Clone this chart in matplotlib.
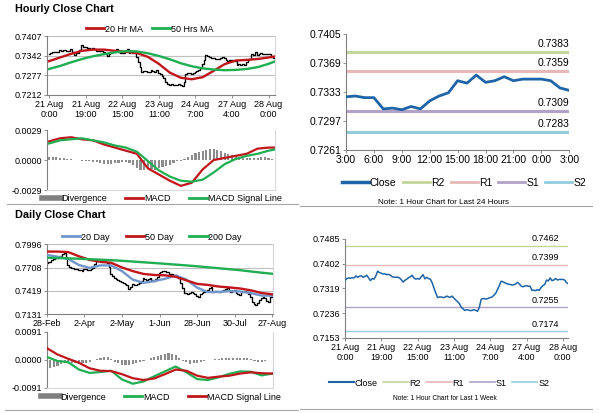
"""Hourly and daily close charts with MAs, MACD and pivot levels."""

import matplotlib
matplotlib.use("Agg")
import matplotlib.pyplot as plt
from matplotlib.lines import Line2D
import numpy as np

plt.rcParams["font.family"] = ["Liberation Sans", "DejaVu Sans"]

# ---------------- hourly data (last week, one value per hour) ----------------
hourly_close = [
    0.7346, 0.7352, 0.7354, 0.7353, 0.7355, 0.7354, 0.7361, 0.7356, 0.7360, 0.7361,
    0.7356, 0.7359, 0.7363, 0.7354, 0.7345, 0.7352, 0.7350, 0.7361, 0.7377, 0.7372,
    0.7370, 0.7367, 0.7368, 0.7365, 0.7366, 0.7363, 0.7358, 0.7357, 0.7356, 0.7357,
    0.7354, 0.7348, 0.7340, 0.7346, 0.7350, 0.7355, 0.7358, 0.7363, 0.7354, 0.7350,
    0.7352, 0.7350, 0.7358, 0.7365, 0.7351, 0.7356, 0.7352, 0.7350, 0.7338, 0.7320,
    0.7303, 0.7288, 0.7290, 0.7290, 0.7288, 0.7289, 0.7293, 0.7290, 0.7289, 0.7293,
    0.7286, 0.7280, 0.7274, 0.7268, 0.7256, 0.7250, 0.7245, 0.7247, 0.7246, 0.7244,
    0.7245, 0.7247, 0.7245, 0.7242, 0.7255, 0.7282, 0.7285, 0.7284, 0.7283, 0.7286,
    0.7288, 0.7290, 0.7296, 0.7302, 0.7315, 0.7328, 0.7343, 0.7341, 0.7338, 0.7335,
    0.7333, 0.7332, 0.7330, 0.7331, 0.7334, 0.7339, 0.7334, 0.7327, 0.7324,
    0.7327, 0.7328, 0.7326, 0.7326, 0.7312, 0.7313, 0.7311, 0.7315, 0.7312, 0.7322,
    0.7328, 0.7332, 0.7347, 0.7344, 0.7354, 0.7345, 0.7347, 0.7352, 0.7347, 0.7349,
    0.7349, 0.7349, 0.7347, 0.7338, 0.7335,
]
hourly_ticks = ["21 Aug\n0:00", "21 Aug\n19:00", "22 Aug\n15:00", "23 Aug\n11:00",
                "24 Aug\n7:00", "27 Aug\n4:00", "28 Aug\n0:00"]

# moving averages and MACD sampled every 6 hours (last point = latest hour)
hourly_ma_hours = [0, 6, 12, 18, 24, 30, 36, 42, 48, 54, 60, 66, 72, 78, 84, 90,
                   96, 102, 108, 114, 120, 123]
ma20_hr = [0.7324, 0.7336, 0.7348, 0.7358, 0.7362, 0.7362, 0.7358, 0.7355, 0.7351,
           0.7338, 0.7315, 0.7286, 0.7269, 0.7264, 0.7271, 0.7292, 0.7314, 0.7326,
           0.7328, 0.7331, 0.7336, 0.7339]
ma50_hr = [0.7298, 0.7308, 0.7320, 0.7331, 0.7340, 0.7347, 0.7353, 0.7357, 0.7356,
           0.7350, 0.7341, 0.7330, 0.7317, 0.7307, 0.7300, 0.7296, 0.7294, 0.7295,
           0.7298, 0.7304, 0.7315, 0.7322]
macd_hr = [0.0018, 0.0021, 0.0022, 0.0020, 0.0019, 0.0015, 0.0012, 0.0009, 0.0006,
           -0.0008, -0.0014, -0.0020, -0.0025, -0.0022, -0.0009, 0.0000, 0.0002,
           0.0004, 0.0006, 0.0011, 0.0012, 0.0012]
signal_hr = [0.0016, 0.0019, 0.0020, 0.0021, 0.0019, 0.0017, 0.0014, 0.0012, 0.0008,
             -0.0001, -0.0010, -0.0016, -0.0020, -0.0021, -0.0019, -0.0012, -0.0004,
             0.0001, 0.0004, 0.0006, 0.0009, 0.0010]
# divergence every 2 hours
divergence_hr = [
    0.0003, 0.0003, 0.0003, 0.0002, 0.0002, 0.0001,
    0.0001, 0.0000, 0.0000, -0.0001, -0.0001,
    -0.0001, -0.0002, -0.0002, -0.0003, -0.0004, -0.0004, -0.0004, -0.0003, -0.0003, -0.0002,
    -0.0002, -0.0003, -0.0005, -0.0008, -0.0010,
    -0.0010, -0.0009, -0.0009, -0.0010, -0.0008, -0.0007, -0.0006, -0.0005, -0.0003, -0.0001,
    -0.0001, 0.0001, 0.0003, 0.0005, 0.0007, 0.0008, 0.0009, 0.0010, 0.0011, 0.0011,
    0.0010, 0.0009, 0.0007, 0.0006, 0.0005, 0.0004, 0.0003, 0.0003, 0.0002, 0.0002,
    0.0002, 0.0002, 0.0003, 0.0003, 0.0002, 0.0001,
]

# ---------------- last 24 hours ----------------
day_hours = ["3:00", "6:00", "9:00", "12:00", "15:00", "18:00", "21:00", "0:00", "3:00"]
pivots_24h = {"R2": 0.7383, "R1": 0.7359, "S1": 0.7309, "S2": 0.7283}
pivots_week = {"R2": 0.7462, "R1": 0.7399, "S1": 0.7255, "S2": 0.7174}

# ---------------- daily data ----------------
daily_close = [
    0.7762, 0.7775, 0.7782, 0.7800, 0.7815, 0.7825, 0.7832, 0.7840, 0.7848, 0.7870,
    0.7886, 0.7840, 0.7741, 0.7710, 0.7702, 0.7700, 0.7695, 0.7691, 0.7680, 0.7675,
    0.7671, 0.7685, 0.7691, 0.7683, 0.7679, 0.7695, 0.7708, 0.7755, 0.7790, 0.7785,
    0.7774, 0.7778, 0.7782, 0.7775, 0.7762, 0.7710, 0.7630, 0.7600, 0.7576, 0.7565,
    0.7555, 0.7540, 0.7535, 0.7520, 0.7505, 0.7490, 0.7444, 0.7473, 0.7501, 0.7498,
    0.7493, 0.7505, 0.7514, 0.7543, 0.7576, 0.7565, 0.7555, 0.7565, 0.7576, 0.7560,
    0.7543, 0.7570, 0.7596, 0.7640, 0.7658, 0.7665, 0.7667, 0.7655, 0.7650, 0.7630,
    0.7625, 0.7617, 0.7612, 0.7609, 0.7576, 0.7514, 0.7452, 0.7400, 0.7390, 0.7378,
    0.7390, 0.7402, 0.7390, 0.7378, 0.7360, 0.7349, 0.7378, 0.7395, 0.7411, 0.7420,
    0.7431, 0.7460, 0.7473, 0.7411, 0.7415, 0.7419, 0.7410, 0.7402, 0.7420, 0.7431,
    0.7445, 0.7452, 0.7420, 0.7411, 0.7425, 0.7431, 0.7390, 0.7380, 0.7369, 0.7411,
    0.7415, 0.7419, 0.7411, 0.7380, 0.7349, 0.7287, 0.7260, 0.7245, 0.7266, 0.7307,
    0.7330, 0.7349, 0.7328, 0.7300, 0.7287, 0.7340, 0.7349,
]
daily_ticks = ["28-Feb", "2-Apr", "2-May", "1-Jun", "28-Jun", "30-Jul", "27-Aug"]

daily_ma_days = [0, 6, 12, 18, 24, 30, 36, 42, 48, 54, 60, 66, 72, 78, 84, 90,
                 96, 102, 108, 114, 120, 126]
ma20_day = [0.7865, 0.7843, 0.7815, 0.7740, 0.7705, 0.7735, 0.7735, 0.7665, 0.7560,
            0.7520, 0.7540, 0.7570, 0.7609, 0.7560, 0.7460, 0.7405, 0.7407, 0.7417,
            0.7413, 0.7392, 0.7362, 0.7361]
ma50_day = [0.7906, 0.7906, 0.7900, 0.7848, 0.7803, 0.7781, 0.7768, 0.7710, 0.7665,
            0.7630, 0.7617, 0.7613, 0.7595, 0.7550, 0.7507, 0.7494, 0.7474, 0.7463,
            0.7450, 0.7427, 0.7394, 0.7378]
ma200_day = [0.7830, 0.7826, 0.7822, 0.7818, 0.7812, 0.7806, 0.7800, 0.7792, 0.7783,
             0.7774, 0.7765, 0.7755, 0.7745, 0.7735, 0.7724, 0.7712, 0.7700, 0.7688,
             0.7676, 0.7660, 0.7645, 0.7632]
macd_day = [0.0009, -0.0004, -0.0008, -0.0032, -0.0043, -0.0040, -0.0036, -0.0064,
            -0.0078, -0.0071, -0.0054, -0.0038, -0.0022, -0.0041, -0.0063, -0.0066,
            -0.0057, -0.0046, -0.0038, -0.0039, -0.0051, -0.0045]
signal_day = [0.0038, 0.0017, 0.0003, -0.0010, -0.0028, -0.0036, -0.0037, -0.0047,
              -0.0060, -0.0066, -0.0061, -0.0047, -0.0032, -0.0036, -0.0052, -0.0059,
              -0.0055, -0.0052, -0.0045, -0.0041, -0.0044, -0.0045]
# divergence every 2 days
divergence_day = [
    -0.0030, -0.0028, -0.0025, -0.0020, -0.0014, -0.0010,
    -0.0008, -0.0010, -0.0012, -0.0014, -0.0012, -0.0010,
    -0.0006, -0.0002, 0.0002, 0.0006, 0.0009, 0.0008,
    0.0002, -0.0006, -0.0012, -0.0016, -0.0018, -0.0017,
    -0.0015, -0.0012, -0.0008, -0.0004, 0.0000, 0.0004,
    0.0008, 0.0012, 0.0016, 0.0020, 0.0023, 0.0020,
    0.0014, 0.0005, -0.0003, -0.0009, -0.0013, -0.0012,
    -0.0010, -0.0008, -0.0005, -0.0002, 0.0000, 0.0002,
    0.0003, 0.0004, 0.0005, 0.0006, 0.0006, 0.0005,
    0.0006, 0.0007, 0.0005, 0.0002, -0.0003, -0.0008,
    -0.0007, -0.0004, -0.0002, 0.0000,
]

RED = "#c0161c"
GREEN = "#1fae52"
BLUE_MA = "#7096cc"
CLOSE_BLUE = "#1f64a6"
GREY = "#808080"
LIGHT = "#d9d9d9"
PIVOT_COLORS = {"R2": "#c3d69b", "R1": "#e6b9b8", "S1": "#b3a2c7", "S2": "#93cddd"}


def fig_box(x0, y0, x1, y1):
    """Pixel box (top-left origin) -> figure fraction rect."""
    return [x0 / 600, 1 - y1 / 413, (x1 - x0) / 600, (y1 - y0) / 413]


def style_axes(ax, labelsize=6.5):
    for side in ("top", "right"):
        ax.spines[side].set_visible(False)
    ax.spines["left"].set_color(GREY)
    ax.spines["bottom"].set_color(GREY)
    ax.spines["left"].set_linewidth(0.8)
    ax.spines["bottom"].set_linewidth(0.8)
    ax.tick_params(labelsize=labelsize, length=2, width=0.6, color=GREY, pad=1.5)


def price_panel(ax, yticks, ylabels):
    style_axes(ax)
    ax.spines["right"].set_visible(True)
    ax.spines["right"].set_color(LIGHT)
    ax.set_ylim(yticks[0], yticks[-1])
    ax.set_yticks(yticks, ylabels)
    for y in yticks[1:]:
        ax.axhline(y, color="#bfbfbf", lw=0.8, zorder=0)


def macd_panel(ax, lim, label):
    style_axes(ax)
    ax.spines["right"].set_visible(True)
    ax.spines["right"].set_color(LIGHT)
    ax.spines["bottom"].set_color(LIGHT)
    ax.set_ylim(-lim, lim)
    ax.set_yticks([lim, 0, -lim], [label, "0.0000", "-" + label])
    ax.set_xticks([])


fig = plt.figure(figsize=(6, 4.13), dpi=100)

hours = np.arange(len(hourly_close))
days = np.arange(len(daily_close))
hour_tick_pos = np.arange(0, 121, 20)
day_tick_pos = np.arange(0, 127, 21)

# ---------------- Hourly close chart (top left) ----------------
fig.text(15 / 600, 1 - 9 / 413, "Hourly Close Chart", fontsize=7.8, fontweight="bold",
         va="center", ha="left")
ax = fig.add_axes(fig_box(46.7, 36, 275, 95))
price_panel(ax, [0.7212, 0.7277, 0.7342, 0.7407], ["0.7212", "0.7277", "0.7342", "0.7407"])
ax.step(hours, hourly_close, where="mid", color="black", lw=0.95, zorder=2)
ax.plot(hourly_ma_hours, ma20_hr, color=RED, lw=1.7, zorder=3)
ax.plot(hourly_ma_hours, ma50_hr, color=GREEN, lw=1.7, zorder=3)
ax.set_xlim(-1.3, 123.5)
ax.set_xticks(hour_tick_pos, hourly_ticks)
fig.legend(handles=[Line2D([], [], color=RED, lw=2, label="20 Hr MA"),
                    Line2D([], [], color=GREEN, lw=2, label="50 Hrs MA")],
           loc="center", bbox_to_anchor=(150 / 600, 1 - 29 / 413), ncol=2, frameon=False,
           fontsize=6.5, handlelength=2.0, handletextpad=0.1, columnspacing=1.0)

ax = fig.add_axes(fig_box(46.7, 130, 275, 190))
macd_panel(ax, 0.0029, "0.0029")
ax.bar(np.arange(0, 123, 2), divergence_hr, width=1.2, color="#8c8c8c", zorder=1)
ax.plot(hourly_ma_hours, macd_hr, color=RED, lw=1.6, zorder=3)
ax.plot(hourly_ma_hours, signal_hr, color=GREEN, lw=1.6, zorder=3)
ax.set_xlim(-1.3, 123.5)
fig.legend(handles=[Line2D([], [], color=GREY, lw=4, label="Divergence"),
                    Line2D([], [], color=RED, lw=2, label="MACD"),
                    Line2D([], [], color=GREEN, lw=2, label="MACD Signal Line")],
           loc="center", bbox_to_anchor=(162 / 600, 1 - 199 / 413), ncol=3, frameon=False,
           fontsize=6.5, handlelength=2.0, handletextpad=0.1, columnspacing=2.0)

# ---------------- Last 24 hours (top right) ----------------
ax = fig.add_axes(fig_box(346, 34, 569.3, 150))
style_axes(ax, labelsize=7.5)
last_day = hourly_close[-25:]
ax.plot(np.arange(len(last_day)), last_day, color=CLOSE_BLUE, lw=2.0, zorder=3)
for name, level in pivots_24h.items():
    ax.axhline(level, color=PIVOT_COLORS[name], lw=2.2, zorder=2)
    ax.text(24, level + 0.0004, f"{level:.4f}", ha="right", va="bottom", fontsize=7.5)
ax.set_xlim(0, 24)
ax.set_ylim(0.7261, 0.7405)
ax.set_yticks([0.7261, 0.7297, 0.7333, 0.7369, 0.7405],
              ["0.7261", "0.7297", "0.7333", "0.7369", "0.7405"])
ax.set_xticks(np.arange(0, 25, 3), day_hours)
handles = [Line2D([], [], color=CLOSE_BLUE, lw=2.5, label="Close")]
handles += [Line2D([], [], color=PIVOT_COLORS[n], lw=2, label=n) for n in pivots_24h]
fig.legend(handles=handles, loc="center", bbox_to_anchor=(464 / 600, 1 - 183 / 413),
           ncol=5, frameon=False, fontsize=7.5, handlelength=2.6, handletextpad=0.1,
           columnspacing=0.6)
fig.text(443 / 600, 1 - 202 / 413, "Note: 1 Hour Chart for Last 24 Hours", fontsize=5.8,
         ha="center", va="center")

# ---------------- Daily close chart (bottom left) ----------------
fig.text(15 / 600, 1 - 215 / 413, "Daily Close Chart", fontsize=7.8, fontweight="bold",
         va="center", ha="left")
ax = fig.add_axes(fig_box(46.7, 244.3, 273.3, 314.3))
price_panel(ax, [0.7131, 0.7419, 0.7708, 0.7996], ["0.7131", "0.7419", "0.7708", "0.7996"])
ax.step(days, daily_close, where="mid", color="black", lw=0.95, zorder=2)
ax.plot(daily_ma_days, ma20_day, color=BLUE_MA, lw=1.7, zorder=3)
ax.plot(daily_ma_days, ma50_day, color=RED, lw=1.7, zorder=3)
ax.plot(daily_ma_days, ma200_day, color=GREEN, lw=1.7, zorder=3)
ax.set_xlim(0, 126.5)
ax.set_xticks(day_tick_pos, daily_ticks)
fig.legend(handles=[Line2D([], [], color=BLUE_MA, lw=2, label="20 Day"),
                    Line2D([], [], color=RED, lw=2, label="50 Day"),
                    Line2D([], [], color=GREEN, lw=2, label="200 Day")],
           loc="center", bbox_to_anchor=(152 / 600, 1 - 237 / 413), ncol=3, frameon=False,
           fontsize=6.5, handlelength=2.0, handletextpad=0.1, columnspacing=1.8)

ax = fig.add_axes(fig_box(46.7, 331.7, 273.3, 387.7))
macd_panel(ax, 0.0091, "0.0091")
ax.bar(np.arange(0, 127, 2), divergence_day, width=1.2, color="#8c8c8c", zorder=1)
ax.plot(daily_ma_days, macd_day, color=GREEN, lw=1.6, zorder=3)
ax.plot(daily_ma_days, signal_day, color=RED, lw=1.6, zorder=3)
ax.set_xlim(0, 126.5)
fig.legend(handles=[Line2D([], [], color=GREY, lw=4, label="Divergence"),
                    Line2D([], [], color=GREEN, lw=2, label="MACD"),
                    Line2D([], [], color=RED, lw=2, label="MACD Signal Line")],
           loc="center", bbox_to_anchor=(161 / 600, 1 - 397 / 413), ncol=3, frameon=False,
           fontsize=6.5, handlelength=2.0, handletextpad=0.1, columnspacing=2.0)

# ---------------- Last week (bottom right) ----------------
ax = fig.add_axes(fig_box(345, 239, 568.3, 337.7))
style_axes(ax, labelsize=6.5)
ax.plot(hours, hourly_close, color=CLOSE_BLUE, lw=1.1, zorder=3)
for name, level in pivots_week.items():
    ax.axhline(level, color=PIVOT_COLORS[name], lw=1.0, zorder=2)
    ax.text(118, level + 0.0008, f"{level:.4f}", ha="right", va="bottom", fontsize=6.5)
ax.set_xlim(0, 123)
ax.set_ylim(0.7153, 0.7485)
ax.set_yticks([0.7153, 0.7236, 0.7319, 0.7402, 0.7485],
              ["0.7153", "0.7236", "0.7319", "0.7402", "0.7485"])
ax.set_xticks(hour_tick_pos, hourly_ticks)
handles = [Line2D([], [], color=CLOSE_BLUE, lw=1.5, label="Close")]
handles += [Line2D([], [], color=PIVOT_COLORS[n], lw=1.2, label=n) for n in pivots_week]
fig.legend(handles=handles, loc="center", bbox_to_anchor=(439 / 600, 1 - 383 / 413),
           ncol=5, frameon=False, fontsize=6.5, handlelength=2.8, handletextpad=0.1,
           columnspacing=0.6)
fig.text(445 / 600, 1 - 398 / 413, "Note: 1 Hour Chart for Last 1 Week", fontsize=4.8,
         ha="center", va="center")

# separators between the panels
for x0, x1, y in [(7, 298, 204), (300, 592, 206), (5, 298, 410), (300, 592, 409)]:
    fig.add_artist(Line2D([x0 / 600, x1 / 600], [1 - y / 413, 1 - y / 413],
                          color="#a6a6a6", lw=0.8))

fig.savefig("out.png", dpi=100)
